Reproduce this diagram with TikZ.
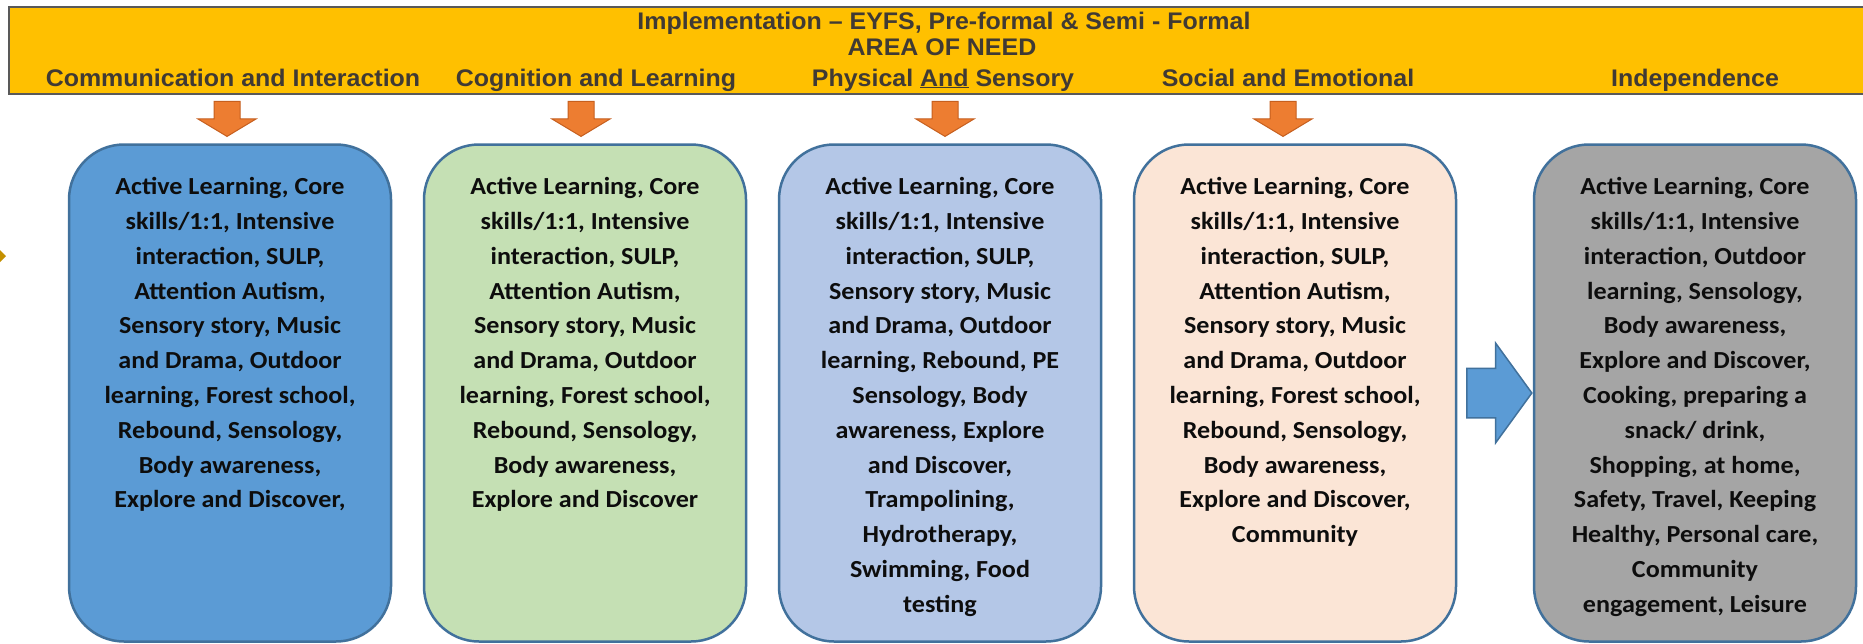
\documentclass[tikz,border=0pt]{standalone}
\usepackage{fontspec}
\usetikzlibrary{shapes,arrows,positioning}
\newfontfamily\headfont[FakeStretch=1.04]{Liberation Sans}
\newfontfamily\boxfont[FakeStretch=1.065]{Carlito}
\definecolor{bannerfill}{HTML}{FFC000}
\definecolor{bannerline}{HTML}{595959}
\definecolor{headtext}{HTML}{403A34}
\definecolor{boxline}{HTML}{41719C}
\definecolor{needblue}{HTML}{5B9BD5}
\definecolor{needgreen}{HTML}{C5E0B4}
\definecolor{needsky}{HTML}{B4C7E7}
\definecolor{needpeach}{HTML}{FBE5D6}
\definecolor{needgrey}{HTML}{A5A5A5}
\definecolor{arroworange}{HTML}{ED7D31}
\definecolor{arrowedge}{HTML}{C65F1E}
\definecolor{tipgold}{HTML}{C49000}
\tikzstyle{banner} = [draw=bannerline, line width=2pt, fill=bannerfill, rectangle, inner sep=0pt]
\tikzstyle{needhead} = [text=headtext, font=\headfont\bfseries\fontsize{24}{28}\selectfont, inner sep=0pt, anchor=base]
\tikzstyle{needbox} = [draw=boxline, line width=2.5pt, rectangle, rounded corners=55pt, minimum width=322pt, minimum height=497pt]
\tikzstyle{needlist} = [text=black!95, font=\boxfont\bfseries\fontsize{24.5}{34.8}\selectfont, align=center, inner sep=0pt]
\tikzstyle{downarrow} = [single arrow, draw=arrowedge, line width=1pt, fill=arroworange, rotate=-90, inner xsep=0pt, inner ysep=12.5pt, minimum height=35pt, single arrow head extend=16pt, single arrow tip angle=118, anchor=tip]
\tikzstyle{nextarrow} = [single arrow, draw=boxline, line width=1.5pt, fill=needblue, inner xsep=0pt, inner ysep=24pt, minimum height=65pt, single arrow head extend=25pt, single arrow tip angle=108, anchor=tip]

\begin{document}
\begin{tikzpicture}[x=1pt, y=-1pt, node distance=355pt]

    \useasboundingbox (0,0) rectangle (1863,643);
    \fill [white] (0,0) rectangle (1863,643);

    \node [banner, anchor=north west, minimum width=1872pt, minimum height=87pt, name = hdr] at (8,6) {};
    \node [needhead, name = ttl] at (944,29) {Implementation – EYFS, Pre-formal \& Semi - Formal};
    \node [needhead, name = aon] at (942,55) {AREA OF NEED};

    \node [needhead, name = h1] at (233,86) {Communication and Interaction};
    \node [needhead, name = h2] at (596,86) {Cognition and Learning};
    \node [needhead, name = h3] at (943,86) {Physical \underline{And} Sensory};
    \node [needhead, name = h4] at (1288,86) {Social and Emotional};
    \node [needhead, name = h5] at (1695,86) {Independence};

    \node [needbox, fill=needblue, name = c1] at (230,393) {};
    \node [needbox, fill=needgreen, right of = c1, name = c2] {};
    \node [needbox, fill=needsky, right of = c2, name = c3] {};
    \node [needbox, fill=needpeach, right of = c3, name = c4] {};
    \node [needbox, fill=needgrey, right of = c4, xshift = 45pt, name = c5] {};

    \node [needlist, below = 34pt of c1.north, name = t1] {Active Learning, Core\\skills/1:1, Intensive\\interaction, SULP,\\Attention Autism,\\Sensory story, Music\\and Drama, Outdoor\\learning, Forest school,\\Rebound, Sensology,\\Body awareness,\\Explore and Discover,};
    \node [needlist, below = 34pt of c2.north, name = t2] {Active Learning, Core\\skills/1:1, Intensive\\interaction, SULP,\\Attention Autism,\\Sensory story, Music\\and Drama, Outdoor\\learning, Forest school,\\Rebound, Sensology,\\Body awareness,\\Explore and Discover};
    \node [needlist, below = 34pt of c3.north, name = t3] {Active Learning, Core\\skills/1:1, Intensive\\interaction, SULP,\\Sensory story, Music\\and Drama, Outdoor\\learning, Rebound, PE\\Sensology, Body\\awareness, Explore\\and Discover,\\Trampolining,\\Hydrotherapy,\\Swimming, Food\\testing};
    \node [needlist, below = 34pt of c4.north, name = t4] {Active Learning, Core\\skills/1:1, Intensive\\interaction, SULP,\\Attention Autism,\\Sensory story, Music\\and Drama, Outdoor\\learning, Forest school,\\Rebound, Sensology,\\Body awareness,\\Explore and Discover,\\Community};
    \node [needlist, below = 34pt of c5.north, name = t5] {Active Learning, Core\\skills/1:1, Intensive\\interaction, Outdoor\\learning, Sensology,\\Body awareness,\\Explore and Discover,\\Cooking, preparing a\\snack/ drink,\\Shopping, at home,\\Safety, Travel, Keeping\\Healthy, Personal care,\\Community\\engagement, Leisure};

    \node [downarrow, name = a1] at (227,137) {};
    \node [downarrow, name = a2] at (581,137) {};
    \node [downarrow, name = a3] at (945,137) {};
    \node [downarrow, name = a4] at (1283,137) {};

    \node [nextarrow, name = go] at (c5.west) {};

    \fill [tipgold] (0,250) -- (6,256) -- (0,262) -- cycle;

\end{tikzpicture}
\end{document}
